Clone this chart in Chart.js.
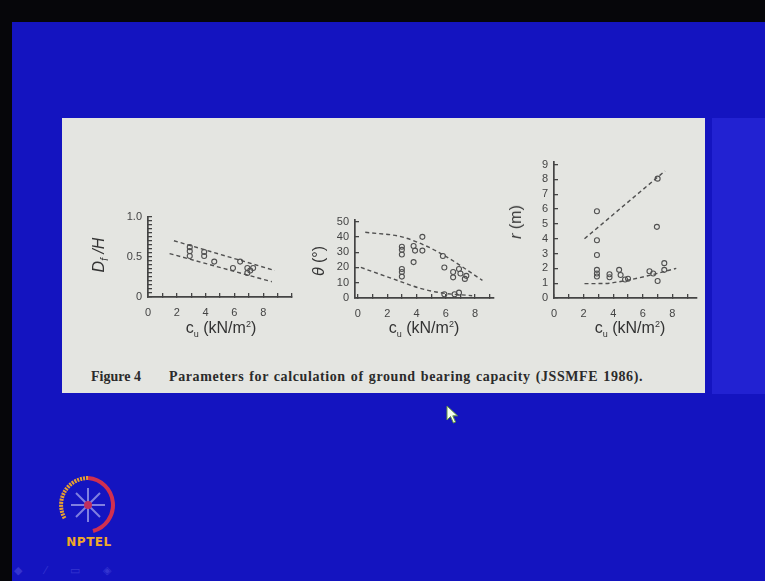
<!DOCTYPE html>
<html><head><meta charset="utf-8">
<script src="https://cdn.jsdelivr.net/npm/chart.js@4"></script>
<style>
html,body{margin:0;padding:0;}
body{width:765px;height:581px;position:relative;overflow:hidden;background:#1414c0;font-family:"Liberation Sans",Arial,sans-serif;}
#topbar{position:absolute;left:0;top:0;width:765px;height:22px;background:#06060a;}
#leftbar{position:absolute;left:0;top:0;width:12px;height:581px;background:#06060a;}
#rightstrip{position:absolute;left:712px;top:118px;width:53px;height:276px;background:#2222d2;}
#panel{position:absolute;left:62px;top:118px;width:643px;height:275px;background:#e4e5e1;}
canvas{position:absolute;}
.ytitle{position:absolute;transform:translate(-50%,-50%) rotate(-90deg);white-space:nowrap;color:#333;font-size:16px;}
.xtitle{position:absolute;transform:translate(-50%,-50%);white-space:nowrap;color:#333;font-size:16px;}
.xtitle sub{font-size:9px;}
.xtitle sup{font-size:9px;}
.cap{position:absolute;top:369px;font-family:"Liberation Serif",serif;font-weight:bold;font-size:14px;color:#2b2b2b;white-space:nowrap;}
#nptel{position:absolute;left:60px;top:535px;width:58px;text-align:center;font-weight:bold;font-size:12px;color:#f0a828;letter-spacing:0.5px;font-family:"DejaVu Sans",sans-serif;}
#tools{position:absolute;left:14px;top:564px;color:#3434d0;font-size:11px;letter-spacing:10px;}
</style>
</head><body>
<div id="topbar"></div>
<div id="leftbar"></div>
<div id="rightstrip"></div>
<div id="panel"></div>

<canvas id="c1" width="195" height="120" style="left:110px;top:200px;"></canvas>
<canvas id="c2" width="178" height="118" style="left:325px;top:203px;"></canvas>
<canvas id="c3" width="181" height="176" style="left:524px;top:145px;"></canvas>

<div class="ytitle" style="left:100px;top:255px;font-style:italic;">D<sub style="font-size:10px">f</sub> /H</div>
<div class="ytitle" style="left:319px;top:261px;"><i>θ</i> (°)</div>
<div class="ytitle" style="left:516px;top:222px;"><i>r</i> (m)</div>
<div class="xtitle" style="left:221px;top:329px;">c<sub>u</sub> (kN/m<sup>2</sup>)</div>
<div class="xtitle" style="left:424px;top:329px;">c<sub>u</sub> (kN/m<sup>2</sup>)</div>
<div class="xtitle" style="left:630px;top:329px;">c<sub>u</sub> (kN/m<sup>2</sup>)</div>
<div class="cap" style="left:91px;">Figure 4</div>
<div class="cap" style="left:169px;letter-spacing:0.6px;word-spacing:1px;">Parameters for calculation of ground bearing capacity (JSSMFE 1986).</div>

<svg style="position:absolute;left:57px;top:474px" width="62" height="62" viewBox="0 0 62 62">
  <path d="M31 4 A27 27 0 0 0 8 45" fill="none" stroke="#e8a030" stroke-width="4" stroke-dasharray="2 1"/>
  <path d="M31 4 A27 27 0 0 1 36 57" fill="none" stroke="#d03050" stroke-width="4"/>
  <g stroke="#8080e0" stroke-width="2">
    <line x1="31" y1="14" x2="31" y2="48"/><line x1="14" y1="31" x2="48" y2="31"/>
    <line x1="19" y1="19" x2="43" y2="43"/><line x1="43" y1="19" x2="19" y2="43"/>
  </g>
  <circle cx="31" cy="31" r="4" fill="#c03060"/>
</svg>
<div id="nptel">NPTEL</div>
<div id="tools">◆ ⁄ ▭ ◈</div>
<svg style="position:absolute;left:446px;top:405px" width="14" height="20" viewBox="0 0 14 20">
  <path d="M1 1 L1 15 L4.5 11.5 L7.5 18 L9.5 17 L6.8 10.8 L11.5 10.8 Z" fill="#f4fff0" stroke="#6a9a40" stroke-width="1"/>
</svg>

<script>
// ---------- Data ----------
const xLabelTicks = [0, 2, 4, 6, 8];

// Chart 1: Df/H vs cu
const c1X = [2.9, 2.9, 2.9, 3.9, 3.9, 4.6, 6.4, 5.9, 6.9, 7.1, 6.9, 7.3];
const c1Y = [0.62, 0.57, 0.51, 0.56, 0.51, 0.44, 0.44, 0.36, 0.36, 0.33, 0.30, 0.36];
const c1UpperX = [1.8, 8.8];
const c1UpperY = [0.70, 0.33];
const c1LowerX = [1.5, 8.6];
const c1LowerY = [0.54, 0.19];
const c1YLabels = [0, 0.5, 1.0];

// Chart 2: theta vs cu
const c2X = [3.0, 3.0, 3.0, 3.0, 3.0, 3.0, 3.8, 4.4, 3.9, 4.4, 3.8, 5.8, 5.9, 6.5, 6.5, 6.9, 7.0, 7.3, 7.4, 5.9, 6.6, 6.9];
const c2Y = [33.5, 31.5, 28.5, 19, 17, 14, 34, 40, 31, 31, 23.5, 27.5, 20, 17, 13.5, 19, 16, 12.5, 14.5, 2.5, 2.5, 3.5];
const c2UpperX = [0.5, 3.0, 5.0, 6.3, 8.5];
const c2UpperY = [43, 40, 32.5, 25.5, 11.5];
const c2LowerX = [0.2, 2.4, 4.2, 5.6, 7.8];
const c2LowerY = [20, 12.5, 6.5, 3.5, 1.5];
const c2YLabels = [0, 10, 20, 30, 40, 50];

// Chart 3: r vs cu
const c3X = [2.9, 2.9, 2.9, 2.9, 2.9, 2.9, 3.75, 3.75, 4.4, 4.5, 4.8, 5.0, 6.45, 6.7, 7.0, 7.45, 7.45, 6.95, 7.0];
const c3Y = [5.85, 3.9, 2.9, 1.9, 1.65, 1.45, 1.6, 1.4, 1.9, 1.55, 1.25, 1.3, 1.8, 1.65, 1.15, 2.35, 1.9, 4.8, 8.05];
const c3UpperX = [2.06, 7.5];
const c3UpperY = [4.0, 8.57];
const c3LowerX = [2.06, 3.5, 4.1, 5.75, 8.26];
const c3LowerY = [0.97, 0.98, 1.05, 1.36, 2.0];
const c3YLabels = [0, 1, 2, 3, 4, 5, 6, 7, 8, 9];

// ---------- Helpers ----------
const INK = '#444';
const pts = (xs, ys) => xs.map((x, i) => ({x, y: ys[i]}));
const near = (v, list) => list.some(t => Math.abs(v - t) < 1e-6);

function makeChart(id, cfg) {
  const scatter = {
    type: 'scatter', data: pts(cfg.x, cfg.y),
    pointStyle: 'circle', pointRadius: 2.5, borderWidth: 1.1,
    borderColor: '#505050', backgroundColor: 'rgba(0,0,0,0)'
  };
  const lineDs = (xs, ys) => ({
    type: 'line', data: pts(xs, ys), showLine: true, pointRadius: 0,
    borderColor: '#505050', borderWidth: 1.4, borderDash: [4, 3],
    tension: cfg.tension || 0, cubicInterpolationMode: 'monotone', fill: false
  });
  new Chart(document.getElementById(id), {
    type: 'scatter',
    data: { datasets: [scatter, lineDs(cfg.ux, cfg.uy), lineDs(cfg.lx, cfg.ly)] },
    options: {
      responsive: false, animation: false, devicePixelRatio: 1,
      layout: { padding: { left: 0, top: cfg.pt, right: cfg.pr, bottom: 0 } },
      plugins: { legend: { display: false }, tooltip: { enabled: false } },
      scales: {
        x: {
          type: 'linear', min: cfg.xmin, max: cfg.xmax,
          afterFit: s => { s.height = cfg.xh; },
          border: { color: INK, width: 1.7 },
          grid: { drawOnChartArea: false, drawTicks: true, tickLength: -4, color: INK, lineWidth: 1.3 },
          ticks: {
            stepSize: 1, includeBounds: false, padding: 13, maxRotation: 0, autoSkip: false,
            color: INK, font: { family: 'Liberation Sans', size: 11 },
            callback: v => near(v, xLabelTicks) ? String(Math.round(v)) : ''
          }
        },
        y: {
          type: 'linear', min: cfg.ymin, max: cfg.ymax,
          afterFit: s => { s.width = cfg.yw; },
          border: { color: INK, width: 1.7 },
          grid: { drawOnChartArea: false, drawTicks: true, tickLength: -4, color: INK, lineWidth: 1.3 },
          ticks: {
            stepSize: cfg.ystep, includeBounds: false, padding: 10, autoSkip: false,
            color: INK, font: { family: 'Liberation Sans', size: 11 },
            callback: v => near(v, cfg.ylabels) ? cfg.yfmt(v) : ''
          }
        }
      }
    }
  });
}

makeChart('c1', {
  x: c1X, y: c1Y, ux: c1UpperX, uy: c1UpperY, lx: c1LowerX, ly: c1LowerY,
  xmin: 0, xmax: 10, ymin: 0, ymax: 1.0, ystep: 0.05, ylabels: c1YLabels,
  yfmt: v => v === 0 ? '0' : v.toFixed(1),
  yw: 38, xh: 23, pt: 15, pr: 7
});
makeChart('c2', {
  x: c2X, y: c2Y, ux: c2UpperX, uy: c2UpperY, lx: c2LowerX, ly: c2LowerY,
  xmin: -0.2, xmax: 9.3, ymin: 0, ymax: 51.3, ystep: 10, ylabels: c2YLabels,
  yfmt: v => String(Math.round(v)), tension: 0.4,
  yw: 30, xh: 23, pt: 15, pr: 8
});
makeChart('c3', {
  x: c3X, y: c3Y, ux: c3UpperX, uy: c3UpperY, lx: c3LowerX, ly: c3LowerY,
  xmin: 0, xmax: 9.66, ymin: 0, ymax: 9.2, ystep: 1, ylabels: c3YLabels,
  yfmt: v => String(Math.round(v)), tension: 0.3,
  yw: 30, xh: 23, pt: 15, pr: 8
});
</script>
</body></html>
